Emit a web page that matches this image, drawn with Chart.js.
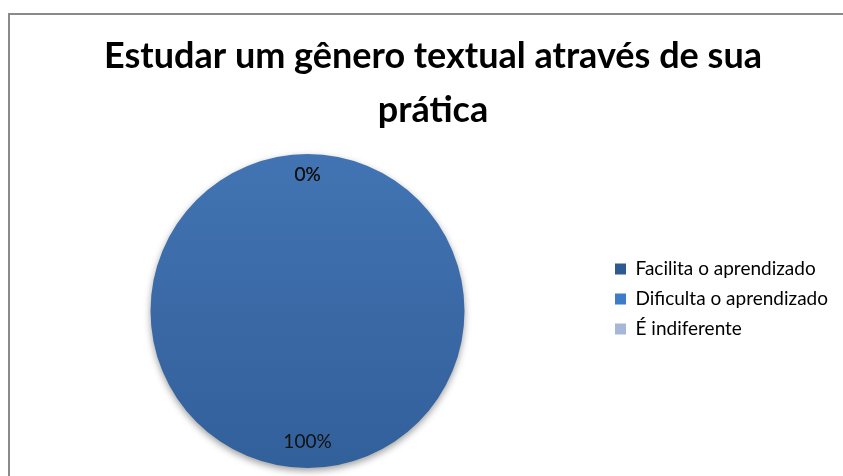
<!DOCTYPE html>
<html><head><meta charset="utf-8">
<script src="https://cdn.jsdelivr.net/npm/chart.js@4.4.1/dist/chart.umd.min.js"></script>
<style>html,body{margin:0;padding:0;background:#fff;overflow:hidden}#wrap{width:843px;height:476px;position:relative}canvas{display:block}</style>
</head><body><div id="wrap"><canvas id="c" width="843" height="476"></canvas></div>
<script>
// ---- data ----
const titleLines = ['Estudar um gênero textual através de sua', 'prática'];
const categories = ['Facilita o aprendizado', 'Dificulta o aprendizado', 'É indiferente'];
const percentages = [100, 0, 0];
const sliceColors = ['#3A69A6', '#3D7CC9', '#A7B7D8'];
const legendColors = ['#2E5A92', '#3D7CC9', '#A7B7D8'];

// ---- layout (pixels) ----
const PIE = {cx: 307.5, cy: 311, r: 157};
const TITLE_SPAN = {left: 23, right: 843};
const LEGEND_POS = {left: 604, top: 248.5};

const framePlugin = {
  id: 'frame',
  beforeDraw(chart) {
    const ctx = chart.ctx;
    ctx.save();
    ctx.fillStyle = '#fff';
    ctx.fillRect(0, 0, chart.width, chart.height);
    ctx.strokeStyle = '#8a8a8a';
    ctx.lineWidth = 2;
    ctx.beginPath();
    ctx.moveTo(chart.width + 5, 14);
    ctx.lineTo(9, 14);
    ctx.lineTo(9, chart.height + 5);
    ctx.stroke();
    ctx.restore();
  }
};

const placePlugin = {
  id: 'place',
  afterLayout(chart) {
    const a = chart.chartArea;
    a.left = PIE.cx - PIE.r; a.right = PIE.cx + PIE.r;
    a.top = PIE.cy - PIE.r; a.bottom = PIE.cy + PIE.r;
    a.width = a.right - a.left; a.height = a.bottom - a.top;
    const t = chart.titleBlock;
    if (t) { t.left = TITLE_SPAN.left; t.right = TITLE_SPAN.right; t.width = t.right - t.left; }
    const lg = chart.legend;
    if (lg) {
      const w = lg.right - lg.left, h = lg.bottom - lg.top;
      lg.left = LEGEND_POS.left; lg.right = lg.left + w;
      lg.top = LEGEND_POS.top; lg.bottom = lg.top + h;
    }
  }
};

const shadowPlugin = {
  id: 'pieShadow',
  beforeDatasetsDraw(chart) {
    const ctx = chart.ctx;
    ctx.save();
    ctx.shadowColor = 'rgba(0,0,0,0.38)';
    ctx.shadowBlur = 7;
    ctx.shadowOffsetY = 3;
  },
  afterDatasetsDraw(chart) { chart.ctx.restore(); }
};

const labelPlugin = {
  id: 'valueLabels',
  afterDatasetsDraw(chart) {
    const ctx = chart.ctx;
    const meta = chart.getDatasetMeta(0);
    ctx.save();
    ctx.shadowColor = 'transparent';
    ctx.font = '19px Lato';
    ctx.fillStyle = '#111';
    ctx.textAlign = 'center';
    ctx.textBaseline = 'middle';
    meta.data.forEach((arc, i) => {
      const p = arc.getProps(['x', 'y', 'startAngle', 'endAngle', 'outerRadius'], true);
      const mid = (p.startAngle + p.endAngle) / 2;
      const k = percentages[i] === 0 ? 0.865 : 0.834;
      ctx.fillText(percentages[i] + '%', p.x + Math.cos(mid) * p.outerRadius * k, p.y + Math.sin(mid) * p.outerRadius * k);
    });
    ctx.restore();
  }
};

function sliceFill(c) {
  const i = c.dataIndex;
  if (i !== 0) return sliceColors[i];
  const a = c.chart.chartArea;
  if (!a) return sliceColors[0];
  const g = c.chart.ctx.createLinearGradient(0, a.top, 0, a.bottom);
  g.addColorStop(0, '#4274B3');
  g.addColorStop(0.5, sliceColors[0]);
  g.addColorStop(1, '#32609B');
  return g;
}

Chart.defaults.font.family = 'Lato';
new Chart(document.getElementById('c'), {
  type: 'pie',
  data: {
    labels: categories,
    datasets: [{
      data: percentages,
      backgroundColor: sliceFill,
      borderWidth: 0,
      hoverOffset: 0,
      offset: 0,
      clip: false
    }]
  },
  options: {
    responsive: false,
    animation: false,
    events: [],
    layout: {padding: {left: 0, right: 0, top: 0, bottom: 8}},
    plugins: {
      tooltip: {enabled: false},
      title: {
        display: true,
        text: titleLines,
        color: '#000',
        font: {family: 'Lato', size: 36, weight: 'bold', lineHeight: 1.5},
        padding: {top: 29, bottom: 12}
      },
      legend: {
        display: true,
        position: 'right',
        align: 'start',
        fullSize: false,
        labels: {
          color: '#1a1a1a',
          font: {family: 'Lato', size: 19},
          boxWidth: 11,
          boxHeight: 11,
          padding: 11,
          generateLabels: () => categories.map((name, i) => ({
            text: name,
            fillStyle: legendColors[i],
            strokeStyle: legendColors[i],
            lineWidth: 0,
            hidden: false,
            index: i
          }))
        }
      }
    }
  },
  plugins: [framePlugin, placePlugin, shadowPlugin, labelPlugin]
});
</script>
</body></html>
